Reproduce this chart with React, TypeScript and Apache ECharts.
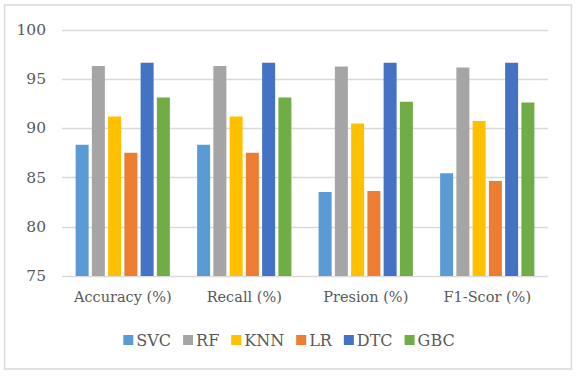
import React, { useEffect, useRef } from "react";
import * as echarts from "echarts";

const categories = ["Accuracy (%)", "Recall (%)", "Presion (%)", "F1-Scor (%)"];
const seriesNames = ["SVC", "RF", "KNN", "LR", "DTC", "GBC"];
const svc = [88.34, 88.34, 83.54, 85.44];
const rf = [96.33, 96.33, 96.29, 96.19];
const knn = [91.22, 91.22, 90.51, 90.75];
const lr = [87.52, 87.52, 83.64, 84.66];
const dtc = [96.67, 96.67, 96.67, 96.67];
const gbc = [93.13, 93.13, 92.72, 92.62];
const seriesValues = [svc, rf, knn, lr, dtc, gbc];
const colors = ["#5B9BD5", "#A5A5A5", "#FFC000", "#ED7D31", "#4472C4", "#70AD47"];

const font = "DejaVu Serif";

export default function App() {
  const ref = useRef<HTMLDivElement>(null);
  useEffect(() => {
    if (!ref.current) return;
    const chart = echarts.init(ref.current, undefined, { renderer: "svg" });
    chart.setOption({
      animation: false,
      backgroundColor: "#ffffff",
      textStyle: { fontFamily: font },
      graphic: [
        {
          type: "rect",
          shape: { x: 4.5, y: 5, width: 567, height: 364 },
          style: { fill: "none", stroke: "#d9d9d9", lineWidth: 1.5 },
          silent: true,
        },
      ],
      grid: { left: 62, right: 30, top: 30, bottom: 100 },
      legend: {
        bottom: 23,
        left: "center",
        itemWidth: 10,
        itemHeight: 10,
        itemGap: 12,
        icon: "rect",
        textStyle: { fontFamily: font, fontSize: 16, color: "#595959", padding: [0, 0, 0, -2] },
        data: seriesNames,
      },
      xAxis: {
        type: "category",
        data: categories,
        axisLine: { show: false },
        axisTick: { show: false },
        axisLabel: { fontFamily: font, fontSize: 14.5, color: "#595959", margin: 13, interval: 0 },
      },
      yAxis: {
        type: "value",
        min: 75,
        max: 100,
        interval: 5,
        axisLine: { show: false },
        axisTick: { show: false },
        axisLabel: { fontFamily: font, fontSize: 15.5, color: "#595959", margin: 16 },
        splitLine: { lineStyle: { color: "#d9d9d9", width: 1.3 } },
      },
      series: seriesNames.map((name, i) => ({
        name,
        type: "bar",
        data: seriesValues[i],
        barWidth: 13,
        barGap: "25%",
        itemStyle: { color: colors[i] },
      })),
    });
    return () => chart.dispose();
  }, []);
  return (
    <div
      ref={ref}
      style={{ position: "fixed", left: 0, top: 0, width: 578, height: 376 }}
    />
  );
}
